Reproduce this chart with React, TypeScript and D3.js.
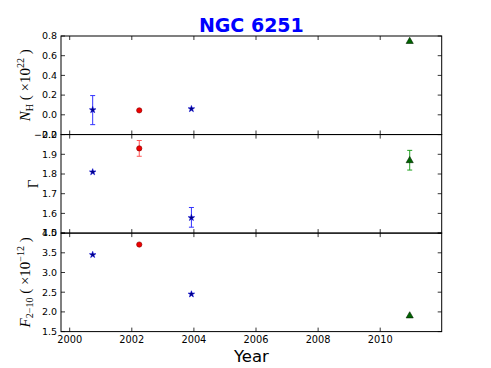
import React from "react";
import * as d3 from "d3";

// ---- data ----
const obsYears = [2000.74, 2002.24, 2003.92, 2010.95];
const obsMarkers = ["star", "circle", "star", "triangle"];
const nhValues = [0.05, 0.045, 0.06, 0.745];
const nhErrLow = [-0.1, null, null, null];
const nhErrHigh = [0.195, null, null, null];
const gammaValues = [1.81, 1.93, 1.578, 1.868];
const gammaErrLow = [null, 1.89, 1.53, 1.82];
const gammaErrHigh = [null, 1.97, 1.63, 1.92];
const fluxValues = [3.45, 3.71, 2.45, 1.9];
const xTicks = [2000, 2002, 2004, 2006, 2008, 2010];
const nhTicks = [-0.2, 0.0, 0.2, 0.4, 0.6, 0.8];
const gammaTicks = [1.5, 1.6, 1.7, 1.8, 1.9, 2.0];
const fluxTicks = [1.5, 2.0, 2.5, 3.0, 3.5, 4.0];

const W = 491, H = 368;
const left = 61, right = 441.7;
const panelTops = [36, 134.6, 233.1];
const panelH = 98.5;

const markerStyle: Record<string, { fill: string; stroke: string; err: string }> = {
  star: { fill: "#000080", stroke: "#0000cc", err: "#3333ff" },
  circle: { fill: "#ee0000", stroke: "#880000", err: "#ff5555" },
  triangle: { fill: "#006400", stroke: "#002200", err: "#22a022" },
};

function markerPath(kind: string) {
  if (kind === "star") return d3.symbol(d3.symbolStar, 13)()!;
  if (kind === "triangle") return d3.symbol(d3.symbolTriangle, 22)()!;
  return d3.symbol(d3.symbolCircle, 22)()!;
}

const x = d3.scaleLinear().domain([1999.72, 2011.98]).range([left, right]);

type PanelProps = {
  top: number;
  domain: [number, number];
  ticks: number[];
  fmt: (v: number) => string;
  values: number[];
  errLow: (number | null)[];
  errHigh: (number | null)[];
  showXLabels: boolean;
};

function Panel({ top, domain, ticks, fmt, values, errLow, errHigh, showXLabels }: PanelProps) {
  const y = d3.scaleLinear().domain(domain).range([top + panelH, top]);
  const bottom = top + panelH;
  const tl = 4;
  return (
    <g>
      {ticks.map((t, i) => (
        <g key={"y" + i}>
          <line x1={left} x2={left + tl} y1={y(t)} y2={y(t)} stroke="#000" strokeWidth={0.8} />
          <line x1={right} x2={right - tl} y1={y(t)} y2={y(t)} stroke="#000" strokeWidth={0.8} />
          <text x={left - 4} y={y(t)} dy="0.35em" textAnchor="end" fontSize={9.5}
            fontFamily="DejaVu Sans" fill="#000">{fmt(t)}</text>
        </g>
      ))}
      {xTicks.map((t, i) => (
        <g key={"x" + i}>
          <line x1={x(t)} x2={x(t)} y1={bottom} y2={bottom - tl} stroke="#000" strokeWidth={0.8} />
          <line x1={x(t)} x2={x(t)} y1={top} y2={top + tl} stroke="#000" strokeWidth={0.8} />
          {showXLabels && (
            <text x={x(t)} y={bottom + 11.5} textAnchor="middle" fontSize={9.8}
              fontFamily="DejaVu Sans" fill="#000">{t}</text>
          )}
        </g>
      ))}
      <rect x={left} y={top} width={right - left} height={panelH} fill="none" stroke="#000" strokeWidth={1} />
      {obsYears.map((yr, i) => {
        const lo = errLow[i], hi = errHigh[i];
        if (lo == null || hi == null) return null;
        const c = markerStyle[obsMarkers[i]].err;
        const cx = x(yr);
        return (
          <g key={"e" + i} stroke={c} strokeWidth={1}>
            <line x1={cx} x2={cx} y1={y(lo)} y2={y(hi)} />
            <line x1={cx - 2.5} x2={cx + 2.5} y1={y(lo)} y2={y(lo)} />
            <line x1={cx - 2.5} x2={cx + 2.5} y1={y(hi)} y2={y(hi)} />
          </g>
        );
      })}
      {obsYears.map((yr, i) => {
        const s = markerStyle[obsMarkers[i]];
        return (
          <path key={"m" + i} d={markerPath(obsMarkers[i])}
            transform={`translate(${x(yr)},${y(values[i])})`}
            fill={s.fill} stroke={s.stroke} strokeWidth={0.6} />
        );
      })}
    </g>
  );
}

export default function App() {
  const fmt1 = (v: number) => (v < 0 ? "\u2212" : "") + Math.abs(v).toFixed(1);
  const c1 = panelTops[0] + panelH / 2;
  const c2 = panelTops[1] + panelH / 2;
  const c3 = panelTops[2] + panelH / 2;
  const serif = "Liberation Serif";
  return (
    <svg width={W} height={H} style={{ position: "absolute", left: 0, top: 0, background: "#fff" }}>
      <rect width={W} height={H} fill="#fff" />
      <text x={(left + right) / 2} y={32} textAnchor="middle" fontSize={19} fontWeight="bold"
        fontFamily="DejaVu Sans" fill="#0000ff">NGC 6251</text>
      <Panel top={panelTops[0]} domain={[-0.2, 0.8]} ticks={nhTicks} fmt={fmt1}
        values={nhValues} errLow={nhErrLow} errHigh={nhErrHigh} showXLabels={false} />
      <Panel top={panelTops[1]} domain={[1.5, 2.0]} ticks={gammaTicks} fmt={fmt1}
        values={gammaValues} errLow={gammaErrLow} errHigh={gammaErrHigh} showXLabels={false} />
      <Panel top={panelTops[2]} domain={[1.5, 4.0]} ticks={fluxTicks} fmt={fmt1}
        values={fluxValues} errLow={[null, null, null, null]} errHigh={[null, null, null, null]} showXLabels={true} />
      <text transform={`translate(30,${c1}) rotate(-90)`} textAnchor="middle" fontFamily={serif} fontSize={15} fill="#000">
        <tspan fontStyle="italic">N</tspan>
        <tspan fontSize={10} dy={3}>H</tspan>
        <tspan dy={-3}>{"  ( \u00d710"}</tspan>
        <tspan fontSize={10} dy={-6}>22</tspan>
        <tspan dy={6}>{" )"}</tspan>
      </text>
      <text transform={`translate(38,${c2}) rotate(-90)`} textAnchor="middle" fontFamily={serif} fontSize={15} fill="#000">Γ</text>
      <text transform={`translate(30,${c3}) rotate(-90)`} textAnchor="middle" fontFamily={serif} fontSize={15} fill="#000">
        <tspan fontStyle="italic">F</tspan>
        <tspan fontSize={10} dy={3}>{"2\u221210"}</tspan>
        <tspan dy={-3}>{"  ( \u00d710"}</tspan>
        <tspan fontSize={10} dy={-6}>{"\u221212"}</tspan>
        <tspan dy={6}>{" )"}</tspan>
      </text>
      <text x={(left + right) / 2} y={362} textAnchor="middle" fontSize={16.5} fontFamily="DejaVu Sans" fill="#000">Year</text>
    </svg>
  );
}
